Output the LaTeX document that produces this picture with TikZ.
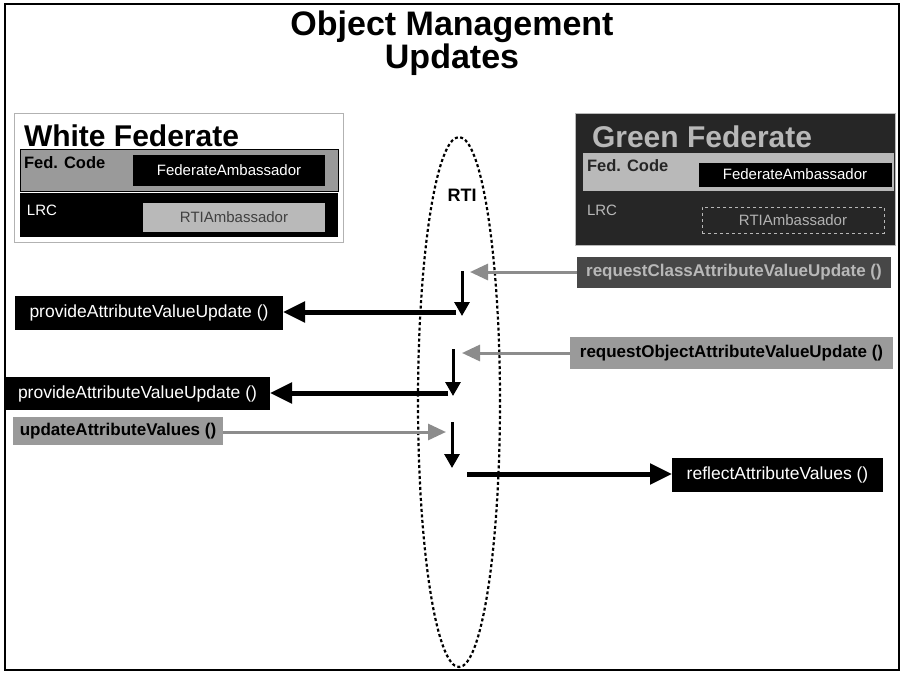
\documentclass[tikz,border=0pt]{standalone}
\usepackage{fontspec}
\setmainfont{Liberation Sans}
\usetikzlibrary{arrows.meta,shapes.geometric}

\definecolor{darkpanel}{HTML}{262626}
\definecolor{midgrey}{HTML}{9A9A9A}
\definecolor{lightgrey}{HTML}{B8B8B8}
\definecolor{callgrey}{HTML}{8C8C8C}

\begin{document}
\begin{tikzpicture}[x=1pt,y=-1pt,
  every node/.style={inner sep=0pt, outer sep=0pt},
  callfont/.style={font=\fontsize{17.5}{20}\selectfont},
  callboldfont/.style={font=\bfseries\fontsize{17}{20}\selectfont},
  darkcall/.style={fill=black, text=white, callfont, anchor=north west},
  greycall/.style={fill=midgrey, text=black, callboldfont, anchor=north west},
  shadecall/.style={fill=darkpanel!85!white, text=lightgrey, callboldfont, anchor=north west},
  fedtitle/.style={font=\bfseries\fontsize{30}{34}\selectfont, anchor=base west},
  codefont/.style={font=\bfseries\fontsize{16.5}{18}\selectfont, anchor=base west},
  smallfont/.style={font=\fontsize{15}{18}\selectfont},
  titlefont/.style={font=\bfseries\fontsize{34}{38}\selectfont, anchor=base},
  strip/.style={anchor=north west},
  incoming/.style={draw=callgrey, line width=3, -{Triangle[length=18pt,width=16pt]}},
  outgoing/.style={draw=black, line width=5, -{Triangle[length=22pt,width=20pt]}},
  handoff/.style={draw=black, line width=3, -{Triangle[length=14pt,width=15pt]}}
]
\useasboundingbox (0,0) rectangle (902,672);
\fill[white] (0,0) rectangle (902,672);

% slide frame
\draw[line width=2.5] (5,4) rectangle (899,670);

% title
\node[titlefont] (title1) at (452,35) {Object Management};
\node[titlefont] (title2) at (452,68) {Updates};

% White federate
\node[strip, draw=gray!60, line width=1, minimum width=329, minimum height=129] (wfed) at (14,113) {};
\node[fedtitle] (wtitle) at (24,146) {White Federate};
\node[strip, fill=midgrey, draw=black, line width=1, minimum width=318, minimum height=42] (wcode) at (20,149) {};
\node[codefont] (wcodelbl) at (24,168) {Fed. Code};
\node[strip, fill=black, text=white, smallfont, minimum width=192, minimum height=31] (wamb) at (133,155) {FederateAmbassador};
\node[strip, fill=black, minimum width=318, minimum height=44] (wlrc) at (20,193) {};
\node[smallfont, text=white, anchor=base west] (wlrclbl) at (27,215) {LRC};
\node[strip, fill=gray!55, text=black!75, smallfont, minimum width=182, minimum height=29] (wrti) at (143,203) {RTIAmbassador};

% Green federate
\node[strip, fill=darkpanel, draw=gray!55, line width=1, minimum width=320, minimum height=132] (gfed) at (575,113) {};
\node[fedtitle, text=lightgrey] (gtitle) at (592,147) {Green Federate};
\node[strip, fill=gray!55, draw=lightgrey, line width=1, minimum width=310, minimum height=37] (gcode) at (583,153) {};
\node[codefont, text=darkpanel] (gcodelbl) at (587,171) {Fed. Code};
\node[strip, fill=black, draw=lightgrey, line width=1, text=white, smallfont, minimum width=194, minimum height=25] (gamb) at (698,162) {FederateAmbassador};
\node[smallfont, text=lightgrey, anchor=base west] (glrclbl) at (587,215) {LRC};
\node[strip, fill=darkpanel, draw=lightgrey, line width=1, dashed, text=gray!60, smallfont, minimum width=182, minimum height=26] (grti) at (702,207) {RTIAmbassador};

% RTI boundary
\node[ellipse, draw=black, line width=2.2, dash pattern=on 3pt off 2.5pt, minimum width=82, minimum height=530] (rti) at (459,402) {};
\node[font=\bfseries\fontsize{18}{20}\selectfont] (rtilbl) at (462,195) {RTI};

% service calls
\node[shadecall, minimum width=314, minimum height=31] (reqclass) at (577,257) {requestClassAttributeValueUpdate ()};
\node[darkcall, minimum width=268, minimum height=34] (prov1) at (15,296) {provideAttributeValueUpdate ()};
\node[greycall, minimum width=323, minimum height=32] (reqobj) at (570,337) {requestObjectAttributeValueUpdate ()};
\node[darkcall, minimum width=265, minimum height=33] (prov2) at (5,377) {provideAttributeValueUpdate ()};
\node[greycall, minimum width=210, minimum height=28] (upd) at (13,417) {updateAttributeValues ()};
\node[darkcall, minimum width=211, minimum height=34] (refl) at (672,458) {reflectAttributeValues ()};

% points inside the RTI
\coordinate (in1) at (470,272);
\coordinate (d1a) at (462,271);
\coordinate (d1b) at (462,316);
\coordinate (out1) at (456,312);
\coordinate (in2) at (462,353);
\coordinate (d2a) at (453,349);
\coordinate (d2b) at (453,396);
\coordinate (out2) at (448,393);
\coordinate (in3) at (446,432);
\coordinate (d3a) at (452,422);
\coordinate (d3b) at (452,468);
\coordinate (out3) at (467,474);

% message flow
\draw[incoming] (reqclass.west |- in1) -- (in1);
\draw[handoff] (d1a) -- (d1b);
\draw[outgoing] (out1) -- (prov1.east |- out1);
\draw[incoming] (reqobj.west |- in2) -- (in2);
\draw[handoff] (d2a) -- (d2b);
\draw[outgoing] (out2) -- (prov2.east |- out2);
\draw[incoming] (upd.east |- in3) -- (in3);
\draw[handoff] (d3a) -- (d3b);
\draw[outgoing] (out3) -- (refl.west |- out3);
\end{tikzpicture}
\end{document}
